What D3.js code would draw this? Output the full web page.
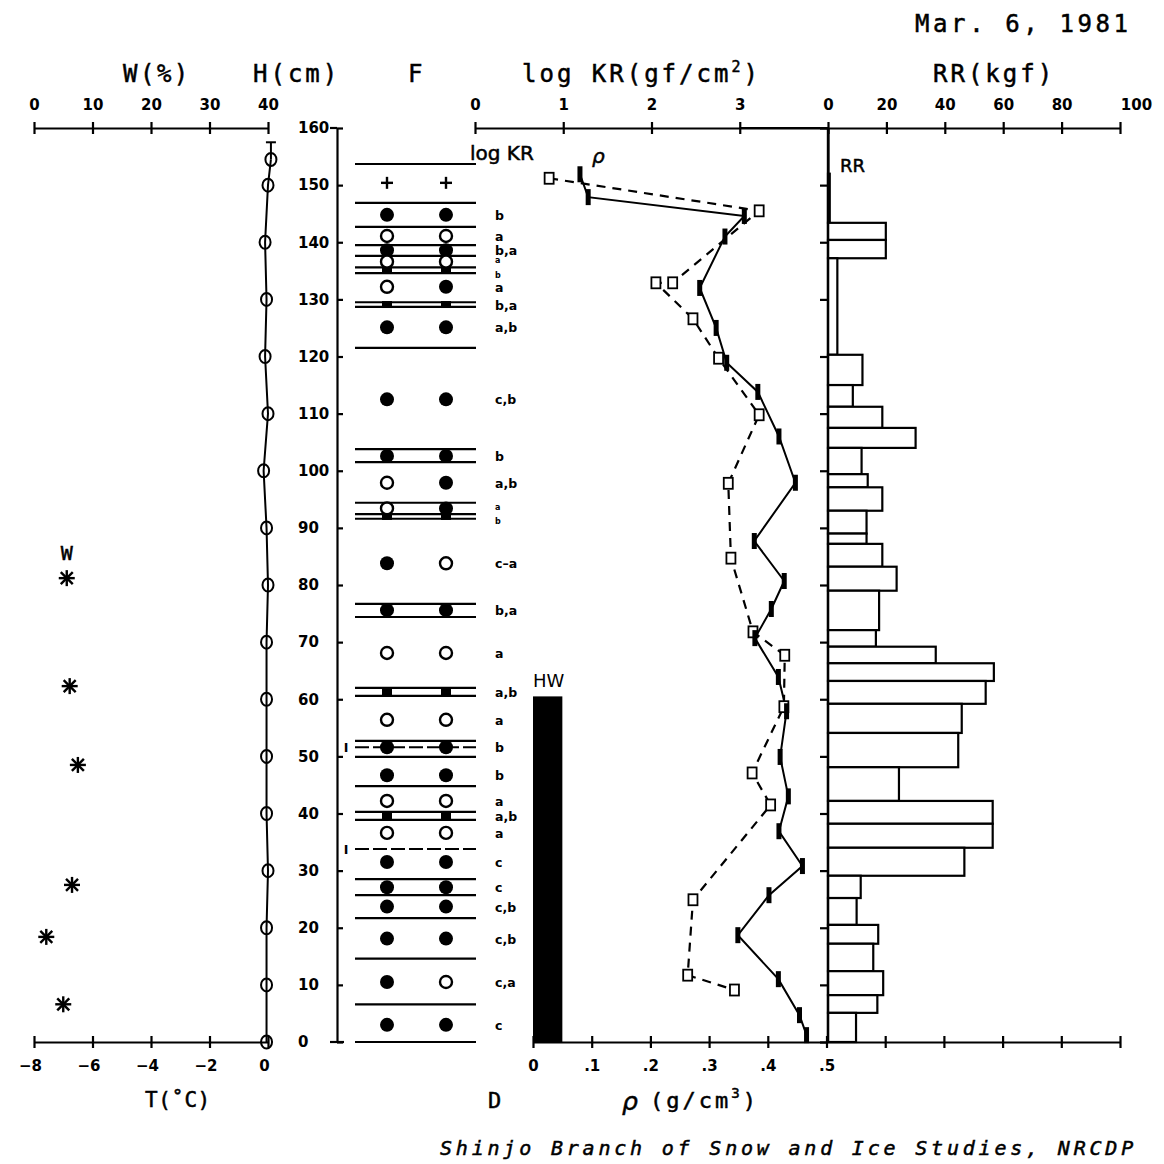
<!DOCTYPE html>
<html><head><meta charset="utf-8">
<script src="https://cdn.jsdelivr.net/npm/d3@7"></script>
<style>
body{margin:0;background:#fff}
svg text{font-family:"DejaVu Sans Mono",monospace;fill:#000}
.tk{font-family:"DejaVu Sans",sans-serif;font-weight:bold;font-size:15px}
.gl{font-family:"DejaVu Sans",sans-serif;font-weight:bold;font-size:12.5px}
.hv{stroke:#000;stroke-width:0.5px}
</style></head><body>
<svg id="c" width="1164" height="1164"></svg>
<script>
// ---------- data ----------
const tempHeights = [154.5,150,140,130,120,110,100,90,80,70,60,50,40,30,20,10,0];
const tempValues  = [0.1,0.0,-0.1,-0.05,-0.1,0.0,-0.15,-0.05,0,-0.05,-0.05,-0.05,-0.05,0,-0.05,-0.05,-0.05];
const waterHeights = [81.2,62.3,48.5,27.5,18.4,6.6];
const waterValues  = [5.6,6.1,7.5,6.5,2.1,5.0];

const layerBounds  = [153.7,146.9,142.7,139.5,137.6,135.6,134.6,129.5,128.7,121.5,103.8,101.5,94.4,92.4,91.6,76.7,74.4,62.0,60.6,52.7,49.9,44.8,40.3,38.9,28.5,25.7,21.7,14.6,6.6,0];
const dashedBounds = [51.6,33.8];
const grainHeights = [150.4,144.8,141.1,138.6,136.6,135.1,132.2,129.1,125.1,112.5,102.6,97.9,93.4,92.0,83.8,75.6,68.1,61.3,56.4,51.6,46.7,42.2,39.6,36.6,31.5,27.1,23.7,18.1,10.5,3.0];
const grainMain    = ["plus","filled","open","filled","open","ice","open","ice","filled","filled","filled","open","open","ice","filled","filled","open","ice","open","filled","filled","open","ice","open","filled","filled","filled","filled","filled","filled"];
const grainSub     = ["plus","filled","open","filled","open","ice","filled","ice","filled","filled","filled","filled","filled","ice","open","filled","open","ice","open","filled","filled","open","ice","open","filled","filled","filled","filled","open","filled"];
const grainSize    = ["","b","a","b,a","a","b","a","b,a","a,b","c,b","b","a,b","a","b","c\u2013a","b,a","a","a,b","a","b","b","a","a,b","a","c","c","c,b","c,b","c,a","c"];

const rhoHeights = [151.9,147.9,144.6,141.0,132.0,125.0,118.9,113.8,106.0,97.9,87.7,80.7,75.8,70.7,63.9,57.9,49.9,43.0,36.9,30.8,25.7,18.7,11.0,4.7,1.2];
const rhoValues  = [0.080,0.094,0.360,0.327,0.284,0.312,0.330,0.383,0.419,0.447,0.377,0.428,0.406,0.378,0.418,0.432,0.421,0.435,0.419,0.459,0.402,0.349,0.418,0.454,0.466];

const krHeights = [151.2,145.5,132.9,132.9,126.6,119.7,109.8,97.8,84.7,71.8,67.7,58.7,47.1,41.5,24.9,11.7,9.1];
const krValues  = [0.84,3.22,2.24,2.05,2.47,2.76,3.22,2.87,2.90,3.15,3.51,3.50,3.14,3.35,2.47,2.41,2.94];

const rrTops    = [152.0,143.4,140.4,137.2,120.3,115.0,111.2,107.5,104.0,99.4,97.1,93.0,89.0,87.2,83.2,79.0,72.1,69.2,66.3,63.2,59.2,54.1,48.1,42.2,38.2,34.0,29.1,25.2,20.5,17.2,12.4,8.2,5.1];
const rrBottoms = [143.4,140.4,137.2,120.3,115.0,111.2,107.5,104.0,99.4,97.1,93.0,89.0,87.2,83.2,79.0,72.1,69.2,66.3,63.2,59.2,54.1,48.1,42.2,38.2,34.0,29.1,25.2,20.5,17.2,12.4,8.2,5.1,0];
const rrValues  = [0.6,19.8,19.8,3.2,11.8,8.5,18.6,30.0,11.5,13.6,18.6,13.2,13.2,18.6,23.5,17.5,16.4,36.9,56.8,54.0,45.8,44.6,24.3,56.4,56.4,46.7,11.2,9.8,17.2,15.5,18.9,16.9,9.6];

const hwHeight = 60.5;
const hwWidth  = 0.05;

const wTicks = [0,10,20,30,40];
const tTicks = [-8,-6,-4,-2,0];
const hTicks = [0,10,20,30,40,50,60,70,80,90,100,110,120,130,140,150,160];
const krTicks = [0,1,2,3];
const rrTicks = [0,20,40,60,80,100];
const rhoTicks = [0,0.1,0.2,0.3,0.4,0.5,0.6,0.7,0.8,0.9,1.0];
const rhoTickLabels = ["0",".1",".2",".3",".4",".5","","","","",""];

// ---------- scales ----------
const yH = d3.scaleLinear().domain([0,160]).range([1042,128]);
const xW = d3.scaleLinear().domain([0,40]).range([34,268]);
const xT = d3.scaleLinear().domain([-8,0]).range([34,268]);
const xK = d3.scaleLinear().domain([0,4]).range([475,828]);
const xRR = d3.scaleLinear().domain([0,100]).range([828,1120]);
const xRho = d3.scaleLinear().domain([0,1]).range([533,1120]);

const svg = d3.select("#c");
const SW = 2.2;
const fmtInt = d3.format("d");

function crossTicks(g, len){
  g.selectAll(".tick line").attr("y1",-len).attr("y2",len).attr("stroke","#000").attr("stroke-width",SW);
  g.select(".domain").attr("stroke","#000").attr("stroke-width",SW);
  g.selectAll(".tick text").attr("class","tk");
}

// W axis (top)
const gW = svg.append("g").attr("transform","translate(0,128)")
  .call(d3.axisTop(xW).tickValues(wTicks).tickSizeOuter(0).tickPadding(12).tickFormat(fmtInt));
crossTicks(gW,6);
// T axis (bottom)
const gT = svg.append("g").attr("transform","translate(0,1042)")
  .call(d3.axisBottom(xT).tickValues(tTicks).tickSizeOuter(0).tickPadding(12).tickFormat(d=>d===0?"0":String(d).replace("-","\u2212")));
crossTicks(gT,6);
gT.selectAll(".tick text").attr("dx",-4);

// top axis log KR + RR
const gK = svg.append("g").attr("transform","translate(0,128)")
  .call(d3.axisTop(xK).tickValues(krTicks).tickSizeOuter(0).tickPadding(12).tickFormat(fmtInt));
crossTicks(gK,6);
const gR = svg.append("g").attr("transform","translate(0,128)")
  .call(d3.axisTop(xRR).tickValues(rrTicks).tickSizeOuter(0).tickPadding(12).tickFormat(fmtInt));
crossTicks(gR,6);
gR.selectAll(".tick text").filter(d=>d===100).attr("dx",16);
svg.append("line").attr("x1",xK(3)).attr("x2",xRR(0)).attr("y1",128).attr("y2",128).attr("stroke","#000").attr("stroke-width",SW);

// bottom rho axis
const gRho = svg.append("g").attr("transform","translate(0,1042)")
  .call(d3.axisBottom(xRho).tickValues(rhoTicks).tickSizeOuter(0).tickPadding(12).tickFormat((d,i)=>rhoTickLabels[i]));
crossTicks(gRho,6);

// H axis
const gH = svg.append("g").attr("transform","translate(337,0)")
  .call(d3.axisRight(yH).tickValues(hTicks).tickSize(6).tickSizeOuter(0).tickFormat(fmtInt));
gH.select(".domain").attr("stroke","#000").attr("stroke-width",SW);
gH.selectAll(".tick line").attr("stroke","#000").attr("stroke-width",SW);
gH.selectAll(".tick text").attr("class","tk").attr("x",-39).attr("text-anchor","start");
svg.append("line").attr("x1",330).attr("x2",337).attr("y1",yH(160)).attr("y2",yH(160)).attr("stroke","#000").attr("stroke-width",SW);
svg.append("line").attr("x1",330).attr("x2",344).attr("y1",yH(0)).attr("y2",yH(0)).attr("stroke","#000").attr("stroke-width",SW);

// RR vertical axis
const gRV = svg.append("g").attr("transform","translate("+xRR(0)+",0)")
  .call(d3.axisLeft(yH).tickValues(hTicks).tickSize(8).tickSizeOuter(0).tickFormat(""));
gRV.select(".domain").attr("stroke","#000").attr("stroke-width",SW);
gRV.selectAll(".tick line").attr("stroke","#000").attr("stroke-width",SW);

// ---------- T profile ----------
const tLine = d3.line().x((d,i)=>xT(tempValues[i])).y((d,i)=>yH(tempHeights[i]));
svg.append("line").attr("x1",xT(0.1)).attr("x2",xT(0.1)).attr("y1",yH(157.5)).attr("y2",yH(tempHeights[0])).attr("stroke","#000").attr("stroke-width",2);
svg.append("line").attr("x1",xT(0.1)-5).attr("x2",xT(0.1)+5).attr("y1",yH(157.5)).attr("y2",yH(157.5)).attr("stroke","#000").attr("stroke-width",2);
svg.append("path").datum(tempHeights).attr("d",tLine).attr("fill","none").attr("stroke","#000").attr("stroke-width",2);
svg.selectAll("ellipse.t").data(tempHeights).join("ellipse").attr("class","t")
  .attr("cx",(d,i)=>xT(tempValues[i])).attr("cy",d=>yH(d)).attr("rx",5.5).attr("ry",6.5)
  .attr("fill","none").attr("stroke","#000").attr("stroke-width",2);

// W asterisks (drawn as 8-arm stars)
const star = svg.selectAll("g.w").data(waterHeights).join("g").attr("class","w")
  .attr("transform",(d,i)=>"translate("+xW(waterValues[i])+","+yH(d)+")");
[[0,-8,0,8],[-8,0,8,0],[-6,-6,6,6],[-6,6,6,-6]].forEach(s=>{
  star.append("line").attr("x1",s[0]).attr("y1",s[1]).attr("x2",s[2]).attr("y2",s[3]).attr("stroke","#000").attr("stroke-width",2.4);
});
svg.append("text").attr("class","hv").attr("x",xW(waterValues[0])-6).attr("y",yH(waterHeights[0])-18).attr("font-size",20).text("W");

// ---------- F column ----------
const fx1 = 355, fx2 = 476, cA = 387, cB = 446;
svg.selectAll("line.lb").data(layerBounds).join("line").attr("class","lb")
  .attr("x1",fx1).attr("x2",fx2).attr("y1",d=>yH(d)).attr("y2",d=>yH(d))
  .attr("stroke","#000").attr("stroke-width",2.2);
svg.selectAll("line.db").data(dashedBounds).join("line").attr("class","db")
  .attr("x1",fx1).attr("x2",fx2).attr("y1",d=>yH(d)).attr("y2",d=>yH(d))
  .attr("stroke","#000").attr("stroke-width",2).attr("stroke-dasharray","14,4");
svg.selectAll("text.db").data(dashedBounds).join("text").attr("class","db gl")
  .attr("x",346).attr("y",d=>yH(d)+5).attr("text-anchor","middle").text("I");

function drawGrain(type, x, y){
  if(type==="filled") svg.append("circle").attr("cx",x).attr("cy",y).attr("r",7).attr("fill","#000");
  else if(type==="open") svg.append("circle").attr("cx",x).attr("cy",y).attr("r",6).attr("fill","#fff").attr("stroke","#000").attr("stroke-width",2.4);
  else if(type==="ice") svg.append("rect").attr("x",x-5).attr("y",y-3.5).attr("width",10).attr("height",7).attr("fill","#000");
  else if(type==="plus"){
    svg.append("line").attr("x1",x-6).attr("x2",x+6).attr("y1",y).attr("y2",y).attr("stroke","#000").attr("stroke-width",2.4);
    svg.append("line").attr("x1",x).attr("x2",x).attr("y1",y-6).attr("y2",y+6).attr("stroke","#000").attr("stroke-width",2.4);
  }
}
grainHeights.forEach((h,i)=>{
  drawGrain(grainMain[i], cA, yH(h));
  drawGrain(grainSub[i], cB, yH(h));
});
// small stacked labels in thin layers are nudged apart
const smallUpper = [4,12], smallLower = [5,13];
svg.selectAll("text.gs").data(grainHeights).join("text").attr("class","gs gl")
  .attr("x",495)
  .attr("y",(d,i)=>yH(d)+(smallUpper.includes(i)?1.5:smallLower.includes(i)?7.5:5))
  .style("font-size",(d,i)=>(smallUpper.includes(i)||smallLower.includes(i))?"8px":"12.5px")
  .text((d,i)=>grainSize[i]);

// ---------- HW ----------
svg.append("rect").attr("x",xRho(0)).attr("width",xRho(hwWidth)-xRho(0))
  .attr("y",yH(hwHeight)).attr("height",yH(0)-yH(hwHeight)).attr("fill","#000");
svg.append("text").attr("x",xRho(0)).attr("y",yH(hwHeight)-9).attr("font-size",18).style("font-family","DejaVu Sans").text("HW");

// ---------- rho (solid) and log KR (dashed) ----------
const rhoLine = d3.line().x((d,i)=>xRho(rhoValues[i])).y(d=>yH(d));
const krLine = d3.line().x((d,i)=>xK(krValues[i])).y(d=>yH(d));
svg.append("path").datum(krHeights).attr("d",krLine).attr("fill","none").attr("stroke","#000").attr("stroke-width",2.2).attr("stroke-dasharray","9,7");
svg.append("path").datum(rhoHeights).attr("d",rhoLine).attr("fill","none").attr("stroke","#000").attr("stroke-width",2);
svg.selectAll("rect.kr").data(krHeights).join("rect").attr("class","kr")
  .attr("x",(d,i)=>xK(krValues[i])-4.5).attr("y",d=>yH(d)-5.5).attr("width",9).attr("height",11)
  .attr("fill","#fff").attr("stroke","#000").attr("stroke-width",1.8);
svg.selectAll("rect.rho").data(rhoHeights).join("rect").attr("class","rho")
  .attr("x",(d,i)=>xRho(rhoValues[i])-2.5).attr("y",d=>yH(d)-8).attr("width",5).attr("height",16)
  .attr("fill","#000");

// ---------- RR bars ----------
svg.selectAll("rect.rr").data(rrValues).join("rect").attr("class","rr")
  .attr("x",xRR(0)).attr("width",d=>xRR(d)-xRR(0))
  .attr("y",(d,i)=>yH(rrTops[i])).attr("height",(d,i)=>yH(rrBottoms[i])-yH(rrTops[i]))
  .attr("fill","#fff").attr("stroke","#000").attr("stroke-width",2.2);
svg.append("line").attr("x1",xRR(0)).attr("x2",xRR(0)).attr("y1",128).attr("y2",1042).attr("stroke","#000").attr("stroke-width",2.4);

// ---------- texts ----------
const T = (x,y,s,str,extra)=>{const t=svg.append("text").attr("class","hv").attr("x",x).attr("y",y).attr("font-size",s).text(str); if(extra) extra(t); return t;};
T(915,32,24,"Mar. 6, 1981",t=>t.attr("letter-spacing","3.6"));
T(123,82,24,"W(%)",t=>t.attr("letter-spacing","2.5"));
T(253,82,24,"H(cm)",t=>t.attr("letter-spacing","3"));
T(408,82,24,"F");
const lk = T(522,82,24,"log KR(gf/cm",t=>t.attr("letter-spacing","3"));
lk.append("tspan").attr("dy",-10).attr("font-size",15).text("2");
lk.append("tspan").attr("dy",10).text(")");
T(933,82,24,"RR(kgf)",t=>t.attr("letter-spacing","3"));
T(470,160,20,"log KR",t=>t.style("font-family","DejaVu Sans"));
T(592,163,20,"\u03c1",t=>t.style("font-family","DejaVu Sans").attr("font-style","italic"));
T(840,172,18,"RR",t=>t.style("font-family","DejaVu Sans"));
T(145,1107,21,"T(\u02daC)",t=>t.attr("letter-spacing","0.5"));
T(488,1108,22,"D");
T(622,1110,25,"\u03c1",t=>t.style("font-family","DejaVu Sans").attr("font-style","italic"));
const rl = T(650,1108,22,"(g/cm",t=>t.attr("letter-spacing","3"));
rl.append("tspan").attr("dy",-10).attr("font-size",14).text("3");
rl.append("tspan").attr("dy",10).text(")");
T(440,1155,20,"Shinjo Branch of Snow and Ice Studies, NRCDP",t=>t.attr("font-style","italic").attr("letter-spacing","3.8"));
</script></body></html>
